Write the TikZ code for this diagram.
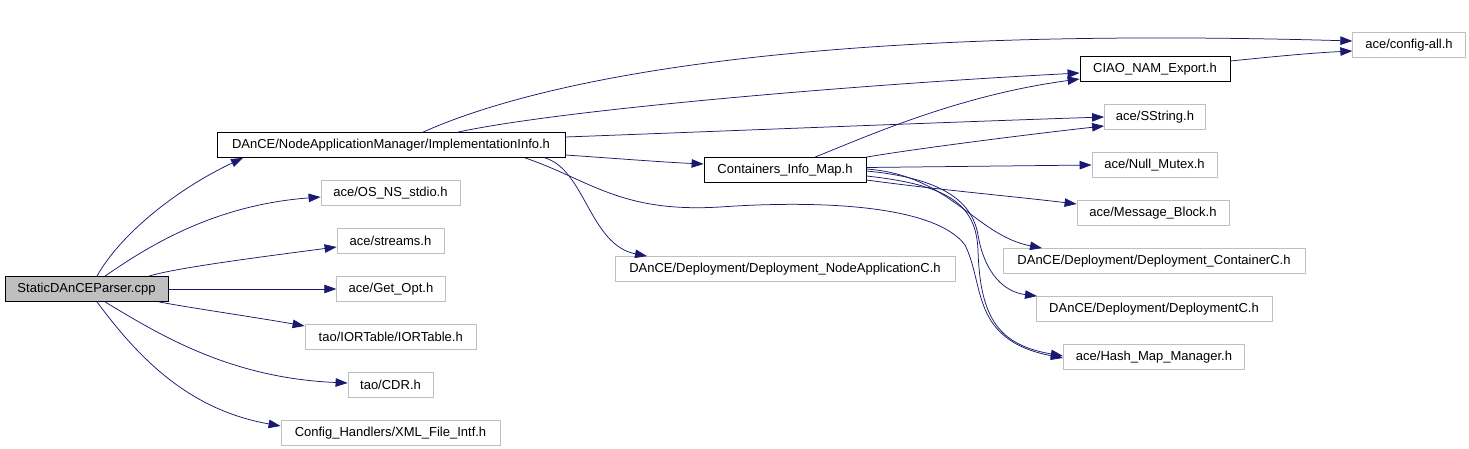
\documentclass[tikz,border=0pt]{standalone}
\usepackage{fontspec}
\setmainfont{Liberation Sans}
\usepackage{xcolor}
\usepackage{tikz}
\usetikzlibrary{arrows.meta}
\definecolor{edgeblue}{RGB}{25,25,112}
\definecolor{boxgray}{RGB}{191,191,191}
\begin{document}
\begin{tikzpicture}[x=1pt,y=-1pt,
  file/.style={draw=boxgray,line width=0.8pt,inner sep=0pt,minimum height=25pt,font=\fontsize{13}{15}\selectfont},
  doc/.style={file,draw=black},
  edge/.style={edgeblue,line width=0.75pt,-{Triangle[length=12pt,width=8.5pt]}}]
   \useasboundingbox (0,0) rectangle (1469,449);
   \node[doc,fill=boxgray,minimum width=163pt] (static) at (86.5,289) {StaticDAnCEParser.cpp};
   \node[doc,minimum width=348pt] (implinfo) at (391,145) {DAnCE/NodeApplicationManager/ImplementationInfo.h};
   \node[file,minimum width=139pt] (osstdio) at (390.5,193) {ace/OS\_NS\_stdio.h};
   \node[file,minimum width=107pt] (streams) at (390.5,241) {ace/streams.h};
   \node[file,minimum width=108.5pt] (getopt) at (391,289) {ace/Get\_Opt.h};
   \node[file,minimum width=171.5pt] (iortable) at (390.75,337) {tao/IORTable/IORTable.h};
   \node[file,minimum width=85pt] (cdr) at (390.5,385) {tao/CDR.h};
   \node[file,minimum width=219pt] (xmlintf) at (390.5,433) {Config\_Handlers/XML\_File\_Intf.h};
   \node[doc,minimum width=162pt] (containers) at (785,170) {Containers\_Info\_Map.h};
   \node[file,minimum width=340pt] (nodeappc) at (785,269) {DAnCE/Deployment/Deployment\_NodeApplicationC.h};
   \node[doc,minimum width=150pt] (ciao) at (1155,69) {CIAO\_NAM\_Export.h};
   \node[file,minimum width=112.5pt] (configall) at (1409,45) {ace/config-all.h};
   \node[file,minimum width=101pt] (sstring) at (1155,117) {ace/SString.h};
   \node[file,minimum width=125pt] (nullmutex) at (1154.5,165) {ace/Null\_Mutex.h};
   \node[file,minimum width=152pt] (msgblock) at (1153,213) {ace/Message\_Block.h};
   \node[file,minimum width=302pt] (depcontainer) at (1154,261) {DAnCE/Deployment/Deployment\_ContainerC.h};
   \node[file,minimum width=236pt] (deploymentc) at (1154,309) {DAnCE/Deployment/DeploymentC.h};
   \node[file,minimum width=181.5pt] (hashmap) at (1154,357) {ace/Hash\_Map\_Manager.h};
   \draw[edge] ([xshift=10.5pt]static.north) .. controls (120,235) and (175,190) .. ([xshift=-148pt]implinfo.south);
   \draw[edge] ([xshift=18.5pt]static.north) .. controls (150,245) and (215,205) .. ([yshift=-4pt]osstdio.west);
   \draw[edge] ([xshift=62.5pt]static.north) .. controls (175,268) and (260,257) .. ([yshift=-6pt]streams.west);
   \draw[edge] (static.east) -- (getopt.west);
   \draw[edge] ([xshift=72.5pt]static.south) .. controls (185,307) and (260,318) .. ([yshift=11pt]iortable.west);
   \draw[edge] ([xshift=18.5pt]static.south) .. controls (160,335) and (230,378) .. ([yshift=2pt]cdr.west);
   \draw[edge] ([xshift=10.5pt]static.south) .. controls (140,360) and (190,410) .. ([yshift=7pt]xmlintf.west);
   \draw[edge] ([xshift=32pt]implinfo.north) .. controls (540,80) and (800,25) .. ([yshift=4pt]configall.west);
   \draw[edge] ([xshift=67pt]implinfo.north) .. controls (560,110) and (850,85) .. ([yshift=-4pt]ciao.west);
   \draw[edge] ([yshift=8pt]implinfo.east) .. controls (700,132) and (950,122) .. (sstring.west);
   \draw[edge] ([yshift=-10pt]implinfo.east) .. controls (610,158) and (660,162) .. ([yshift=6pt]containers.west);
   \draw[edge] ([xshift=154pt]implinfo.south) .. controls (585,170) and (590,245) .. ([xshift=-138pt]nodeappc.north);
   \draw[edge] ([xshift=134pt]implinfo.south) .. controls (590,180) and (620,213) .. (720,207)
      .. controls (820,200) and (935,205) .. (965,245) .. controls (985,285) and (970,340) .. ([yshift=-1pt]hashmap.west);
   \draw[edge] ([xshift=30pt]containers.north) .. controls (870,135) and (960,95) .. ([yshift=-10pt]ciao.west);
   \draw[edge] (containers.north east) .. controls (920,148) and (1040,133) .. ([yshift=-9pt]sstring.west);
   \draw[edge] ([yshift=2.5pt]containers.east) -- (nullmutex.west);
   \draw[edge] ([yshift=-10pt]containers.east) .. controls (940,190) and (1010,196) .. ([yshift=9pt]msgblock.west);
   \draw[edge] ([yshift=1pt]containers.east) .. controls (950,175) and (975,235) .. ([xshift=-112pt]depcontainer.north);
   \draw[edge] ([yshift=-1pt]containers.east) .. controls (940,178) and (972,200) .. (978,235)
      .. controls (985,275) and (1005,292) .. ([xshift=-117pt]deploymentc.north);
   \draw[edge] ([yshift=-6pt]containers.east) .. controls (950,185) and (976,205) .. (978,250)
      .. controls (980,320) and (1000,345) .. ([yshift=1pt]hashmap.west);
   \draw[edge] ([yshift=8pt]ciao.east) .. controls (1270,57) and (1310,53) .. ([yshift=-6pt]configall.west);
\end{tikzpicture}
\end{document}
